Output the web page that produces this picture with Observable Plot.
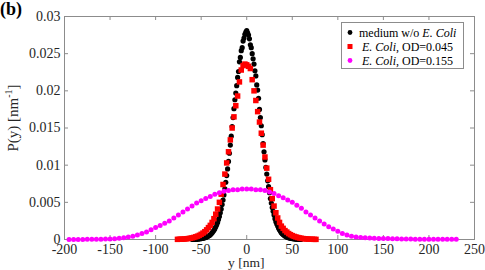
<!DOCTYPE html>
<html><head><meta charset="utf-8">
<script src="https://cdn.jsdelivr.net/npm/d3@7"></script>
<script src="https://cdn.jsdelivr.net/npm/@observablehq/plot@0.6"></script>
<style>
html,body{margin:0;padding:0;background:#fff;}
#chart svg{display:block;}
</style>
</head><body><div id="chart"></div>
<script>
// ---- data ----
const xTicks = [-200,-150,-100,-50,0,50,100,150,200,250];
const yTicks = [0,0.005,0.01,0.015,0.02,0.025,0.03];
const seriesNames = ["medium w/o E. Coli","E. Coli, OD=0.045","E. Coli, OD=0.155"];

// medium w/o E. Coli : y from -60 to 60 nm, step 1
const blackStart = -60, blackStep = 1;
const blackP = [0.00002,0.00002,0.00003,0.00003,0.00004,0.00005,0.00006,0.00007,0.00009,0.0001,
0.00012,0.00014,0.00017,0.0002,0.00024,0.00028,0.00033,0.00039,0.00046,0.00054,
0.00064,0.00076,0.0009,0.00106,0.00124,0.00146,0.0017,0.002,0.0023,0.0027,
0.0031,0.0036,0.0041,0.0047,0.0053,0.006,0.0068,0.0077,0.0086,0.0095,
0.0105,0.0116,0.0127,0.0139,0.0152,0.0164,0.0176,0.0188,0.0197,0.0207,
0.0218,0.0226,0.0239,0.0245,0.0254,0.0258,0.0267,0.0271,0.0276,0.0279,
0.0281,
0.0278,0.0275,0.0270,0.0262,0.0258,0.0250,0.0243,0.0236,0.0227,0.0220,
0.0208,0.0201,0.0190,0.0175,0.0164,0.0153,0.0141,0.0129,0.0118,0.0107,
0.0097,0.0088,0.0079,0.0071,0.0063,0.0055,0.0049,0.0043,0.0038,0.0033,
0.0028,0.0024,0.0021,0.0018,0.0015,0.0013,0.0011,0.0009,0.00078,0.00066,
0.00056,0.00047,0.0004,0.00034,0.00028,0.00024,0.0002,0.00017,0.00014,0.00012,
0.0001,0.00009,0.00007,0.00006,0.00005,0.00004,0.00003,0.00003,0.00002,0.00002];

// E. Coli OD=0.045 : y from -76 to 76 nm, step 2
const redStart = -76, redStep = 2;
const redP = [0.00002,0.00003,0.00004,0.00005,0.00007,0.0001,0.00013,0.00017,0.00022,0.00028,
0.00036,0.00045,0.00056,0.0007,0.00086,0.00105,0.0013,0.0016,0.0019,0.0023,
0.0028,0.0034,0.0041,0.0050,0.0061,0.0074,0.0088,0.0103,0.0118,0.0134,
0.0150,0.0165,0.0180,0.0193,0.0212,0.0228,0.0234,0.0236,
0.0235,
0.0233,0.0230,0.0215,0.0200,0.0187,0.0172,0.0158,0.0143,0.0127,0.0111,
0.0096,0.0081,0.0067,0.0055,0.0045,0.0036,0.0029,0.0023,0.0018,0.0015,
0.0012,0.001,0.0008,0.00065,0.00052,0.00042,0.00034,0.00027,0.00021,0.00016,
0.00012,0.00009,0.00007,0.00005,0.00004,0.00003,0.00002,0.00002];

// E. Coli OD=0.155 : y from -195 to 230 nm, step 5
const magStart = -195, magStep = 5;
const magP = [0.00001,0.00001,0.00001,0.00001,0.00002,0.00002,0.00003,0.00004,0.00006,0.00008,
0.00011,0.00016,0.00023,0.00032,0.00045,0.0006,0.0008,0.0010,0.0013,0.0016,
0.0019,0.0022,0.0025,0.0029,0.0033,0.0037,0.0041,0.0045,0.0049,0.0052,
0.0055,0.0058,0.0061,0.0063,0.0065,0.0066,0.0067,0.0067,0.0068,0.0068,
0.0068,0.0067,0.0067,0.0066,0.0064,0.0062,0.0059,0.0056,0.0053,0.0050,
0.0046,0.0042,0.0037,0.0033,0.0029,0.0025,0.0021,0.0017,0.0014,0.0011,
0.0008,0.0006,0.00045,0.00035,0.00028,0.00024,0.0002,0.00017,0.00015,0.00013,
0.00012,0.0001,0.00009,0.00008,0.00007,0.00006,0.00005,0.00005,0.00004,0.00004,
0.00003,0.00003,0.00003,0.00002,0.00002,0.00002];

// ---- build tables ----
const toRows = (start, step, vals) => vals.map((p, i) => ({y: start + i * step, p}));
const black = toRows(blackStart, blackStep, blackP);
const red = toRows(redStart, redStep, redP);
const mag = toRows(magStart, magStep, magP);

const W = 485, H = 270, mL = 64, mR = 11, mT = 16, mB = 31;
const frameH = H - mT - mB, frameW = W - mL - mR;
const axisColor = "#8c8c8c";
const textColor = "#262626";
const TL = 4; // tick length

const fmtY = d => String(+d.toFixed(3));
const fmtX = d => String(d);

const plot = Plot.plot({
  width: W, height: H,
  marginLeft: mL, marginRight: mR, marginTop: mT, marginBottom: mB,
  style: {fontFamily: "'Liberation Serif', 'Times New Roman', serif", fontSize: "14px", color: textColor, background: "#fff"},
  x: {domain: [-200, 250]},
  y: {domain: [0, 0.03]},
  marks: [
    Plot.frame({stroke: axisColor, strokeWidth: 1}),
    // inward ticks on all four sides
    Plot.tickX(xTicks, {x: d => d, insetTop: frameH - TL, stroke: axisColor}),
    Plot.tickX(xTicks, {x: d => d, insetBottom: frameH - TL, stroke: axisColor}),
    Plot.tickY(yTicks, {y: d => d, insetRight: frameW - TL, stroke: axisColor}),
    Plot.tickY(yTicks, {y: d => d, insetLeft: frameW - TL, stroke: axisColor}),
    Plot.axisX(xTicks, {tickSize: 0, tickPadding: 5, tickFormat: fmtX, label: null, fill: textColor}),
    Plot.axisY(yTicks, {tickSize: 0, tickPadding: 4, tickFormat: fmtY, label: null, fill: textColor}),
    Plot.dot(black, {x: "y", y: "p", r: 2.6, fill: "#000000", stroke: "none"}),
    Plot.dot(red, {x: "y", y: "p", r: 3.1, symbol: "square", fill: "#ff0000", stroke: "none"}),
    Plot.dot(mag, {x: "y", y: "p", r: 2.5, fill: "#ff00ff", stroke: "none"})
  ]
});
document.getElementById("chart").appendChild(plot);

// ---- extra text: panel tag, axis labels, legend ----
const svg = d3.select(plot);
const font = "'Liberation Serif', 'Times New Roman', serif";

svg.append("text").attr("x", 0).attr("y", 15).attr("text-anchor", "start")
  .attr("font-family", font).attr("font-size", 18).attr("font-weight", "bold")
  .attr("fill", "#000").text("(b)");

svg.append("text").attr("x", mL + frameW * (200 / 450)).attr("y", 266.5)
  .attr("text-anchor", "middle").attr("font-family", font).attr("font-size", 13.5)
  .attr("fill", textColor).text("y [nm]");

const yl = svg.append("text")
  .attr("transform", `translate(18,118) rotate(-90)`)
  .attr("text-anchor", "middle").attr("font-family", font).attr("font-size", 15)
  .attr("fill", textColor);
yl.append("tspan").text("P(y) [nm");
yl.append("tspan").attr("dy", -6).attr("font-size", 10).text("-1");
yl.append("tspan").attr("dy", 6).text("]");

// legend
const lg = svg.append("g").attr("font-family", font).attr("font-size", 12).attr("fill", "#000")
  .attr("text-anchor", "start");
lg.append("rect").attr("x", 341.5).attr("y", 22.5).attr("width", 122).attr("height", 46)
  .attr("fill", "#fff").attr("stroke", axisColor);
const rowsY = [32.5, 46.5, 60.5];
lg.append("circle").attr("cx", 350).attr("cy", rowsY[0]).attr("r", 2.4).attr("fill", "#000");
lg.append("rect").attr("x", 347.5).attr("y", rowsY[1] - 2.5).attr("width", 5).attr("height", 5).attr("fill", "#ff0000");
lg.append("circle").attr("cx", 350).attr("cy", rowsY[2]).attr("r", 2.4).attr("fill", "#ff00ff");

const t1 = lg.append("text").attr("x", 359).attr("y", rowsY[0] + 4).attr("text-anchor", "start");
t1.append("tspan").text("medium w/o ");
t1.append("tspan").attr("font-style", "italic").text("E. Coli");
[1, 2].forEach(i => {
  const t = lg.append("text").attr("x", 362).attr("y", rowsY[i] + 4).attr("text-anchor", "start");
  const od = seriesNames[i].split(", ")[1];
  t.append("tspan").attr("font-style", "italic").text("E. Coli");
  t.append("tspan").text(", " + od);
});
</script>
</body></html>
